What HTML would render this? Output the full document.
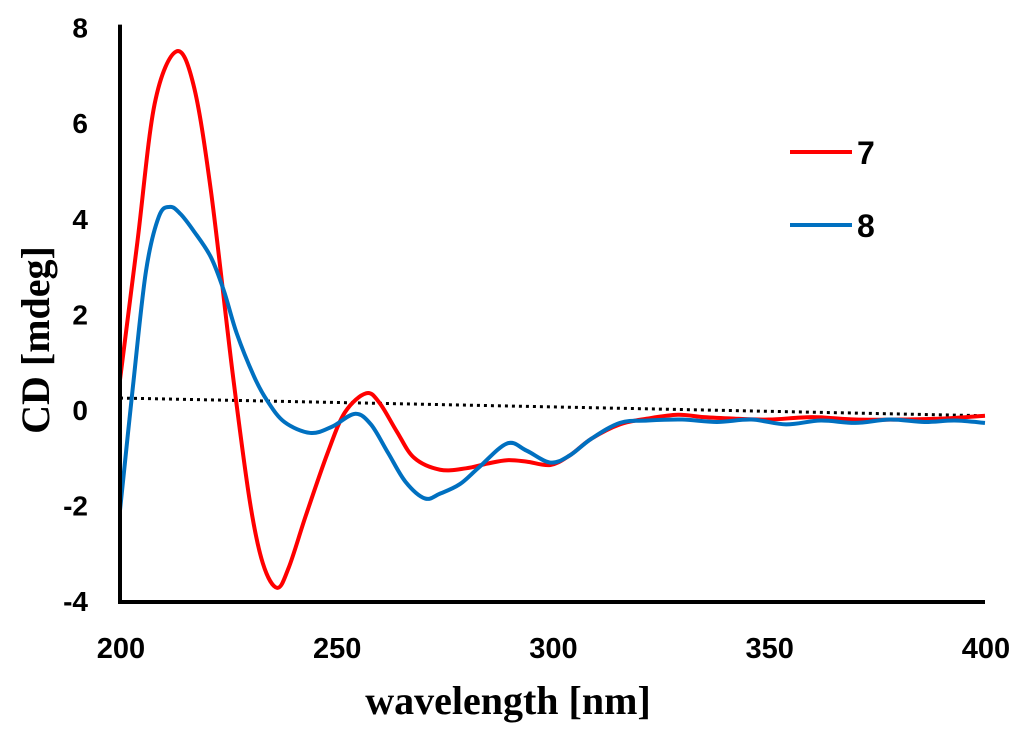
<!DOCTYPE html>
<html><head><meta charset="utf-8"><style>
html,body{margin:0;padding:0;background:#fff;width:1024px;height:731px;overflow:hidden}
svg text{font-family:"Liberation Sans",Arial,sans-serif;font-weight:bold}
</style></head><body>
<svg id="chart" width="1024" height="731" viewBox="0 0 1024 731" xmlns="http://www.w3.org/2000/svg">
</svg>
<script>
const xTicks=[200,250,300,350,400];
const yTicks=[8,6,4,2,0,-2,-4];
const redW=[200,204,208,213,217,221,226,230,233,236.3,239,243,248,252,256.9,260,264,268,274,280,285,289.5,294,299.5,304,309,315.6,322,329,335,342,350,360,370,380,390,400];
const redV=[0.63,3.5,6.4,7.5,6.8,4.6,0.8,-1.9,-3.2,-3.72,-3.3,-2.2,-0.9,-0.05,0.35,0.15,-0.45,-1.0,-1.25,-1.22,-1.12,-1.05,-1.08,-1.15,-0.95,-0.6,-0.3,-0.18,-0.1,-0.15,-0.18,-0.2,-0.15,-0.2,-0.2,-0.18,-0.12];
const blueW=[200,203,206,209,211.6,214,217,221,224,227,231,234,238,244,249,254.3,258,262,266,270.5,274,278.6,283,289.5,294,299.5,304,309,315.6,322,330,338,346,354,362,370,378,386,393,400];
const blueV=[-2.1,0.5,2.9,4.05,4.25,4.1,3.75,3.2,2.5,1.6,0.7,0.2,-0.25,-0.48,-0.35,-0.08,-0.3,-0.9,-1.5,-1.85,-1.75,-1.55,-1.2,-0.7,-0.85,-1.1,-0.95,-0.6,-0.27,-0.22,-0.2,-0.25,-0.2,-0.3,-0.22,-0.27,-0.2,-0.25,-0.22,-0.27];
const dotW=[200,400];
const dotV=[0.25,-0.12];
const legendLabels=["7","8"];

const X=w=>120+(w-200)*4.325;
const Y=v=>410-47.8*v;
const NS="http://www.w3.org/2000/svg";
const svg=document.getElementById('chart');
function mk(tag,attrs){const e=document.createElementNS(NS,tag);for(const k in attrs)e.setAttribute(k,attrs[k]);svg.appendChild(e);return e;}
function smooth(ws,vs){const p=ws.map((w,i)=>[X(w),Y(vs[i])]);let d=`M${p[0][0]},${p[0][1]}`;
for(let i=0;i<p.length-1;i++){const p0=p[i-1]||p[i],p1=p[i],p2=p[i+1],p3=p[i+2]||p2;
const c1=[p1[0]+(p2[0]-p0[0])/6,p1[1]+(p2[1]-p0[1])/6],c2=[p2[0]-(p3[0]-p1[0])/6,p2[1]-(p3[1]-p1[1])/6];
d+=`C${c1[0]},${c1[1]} ${c2[0]},${c2[1]} ${p2[0]},${p2[1]}`;}return d;}

let e;
e=mk('line',{x1:X(dotW[0]),y1:Y(dotV[0]),x2:X(dotW[1]),y2:Y(dotV[1]),stroke:'#000','stroke-width':3,'stroke-dasharray':'3,4'});


e=mk('path',{d:smooth(redW,redV),fill:'none',stroke:'#ff0000','stroke-width':4});


e=mk('path',{d:smooth(blueW,blueV),fill:'none',stroke:'#0070c0','stroke-width':4});



e=mk('line',{x1:120,y1:Y(8)-3,x2:120,y2:604,stroke:'#000','stroke-width':4});


e=mk('line',{x1:118,y1:602,x2:X(400),y2:602,stroke:'#000','stroke-width':4});



xTicks.forEach(t=>{const el=mk('text',{x:X(t)+1,y:658,'text-anchor':'middle','font-size':29});el.textContent=t;

});
yTicks.forEach(t=>{const el=mk('text',{x:88,y:Y(t)+10,'text-anchor':'end','font-size':28});el.textContent=t;

});

e=mk('text',{x:508,y:714,'text-anchor':'middle','font-size':40,style:'font-family:"Liberation Serif",serif;font-weight:bold'});e.textContent='wavelength [nm]';


e=mk('text',{x:0,y:0,'text-anchor':'middle','font-size':40,transform:'translate(49,340) rotate(-90)',style:'font-family:"Liberation Serif",serif;font-weight:bold'});e.textContent='CD [mdeg]';



const legCols=['#ff0000','#0070c0'],legY=[152,225];
legendLabels.forEach((l,i)=>{
 const ln=mk('line',{x1:790,y1:legY[i],x2:852,y2:legY[i],stroke:legCols[i],'stroke-width':4});
 
 
 const tx=mk('text',{x:857,y:legY[i]+12,'font-size':32});tx.textContent=l;
 
 
});
</script>
</body></html>
